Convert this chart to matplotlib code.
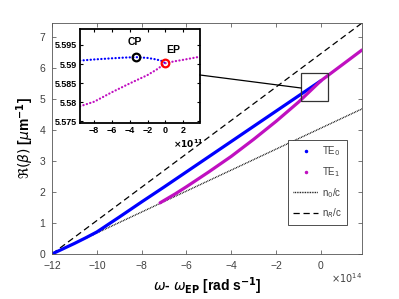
import numpy as np
import matplotlib.pyplot as plt
from matplotlib.lines import Line2D
from matplotlib.patches import Rectangle
from matplotlib.ticker import FuncFormatter

plt.rcParams['font.family'] = ['Liberation Sans', 'DejaVu Sans']
plt.rcParams['mathtext.fontset'] = 'dejavusans'

# main plot, x in units of 1e14 rad/s
te0_x = [-12, -11.5, -11, -10.5, -10, -9, -8, -7, -6, -5, -4, -3, -2, -1, 0]
te0_y = [0, 0.17, 0.34, 0.52, 0.71, 1.19, 1.68, 2.16, 2.65, 3.14, 3.63, 4.12, 4.61, 5.10, 5.59]
te1_x = [-7.18, -6.5, -6, -5, -4, -3, -2, -1, 0, 1, 1.83]
te1_y = [1.65, 1.94, 2.17, 2.65, 3.15, 3.70, 4.28, 4.90, 5.59, 6.13, 6.58]
n0_x = [-12, 1.83]
n0_y = [0, 4.68]
nr_x = [-12, 1.83]
nr_y = [0, 7.45]

# inset, x in units of 1e11 rad/s
in0_x = [-9.6, -8, -6, -4.5, -3.3, -2, -1, -0.4, 0]
in0_y = [5.5909, 5.5912, 5.5915, 5.5917, 5.5918, 5.5916, 5.5912, 5.5908, 5.5902]
in1_x = [-9.6, -8, -6, -4, -2, -1, 0, 1, 2, 3.85]
in1_y = [5.5789, 5.5801, 5.5826, 5.5849, 5.5871, 5.5885, 5.5902, 5.5907, 5.5911, 5.5919]
cp = (-3.3, 5.5918)
ep = (0.0, 5.5902)

blue = '#0000ff'
mag = '#c010c0'
gray = '#404040'

fig = plt.figure(figsize=(3.99, 2.99), dpi=100)
ax = fig.add_axes([0.1303, 0.1505, 0.777, 0.7726])

ax.plot(nr_x, nr_y, color='k', ls=(0, (5, 3)), lw=0.9)
ax.plot(n0_x, n0_y, color='k', ls=(0, (0.6, 0.6)), lw=1.0)
ax.plot(te0_x, te0_y, color=blue, lw=2.3, solid_capstyle='round')
ax.plot(te1_x, te1_y, color=mag, lw=2.3, solid_capstyle='round')

ax.set_xlim(-12, 1.83)
ax.set_ylim(0, 7.45)
ax.set_xticks(range(-12, 1, 2))
ax.set_yticks(range(0, 8))
ax.tick_params(direction='in', top=True, right=True, labelsize=7.5,
               colors=gray, length=3, width=0.5, pad=5)
for s in ax.spines.values():
    s.set_color('#555555')
    s.set_linewidth(0.6)
fig.text(362 / 399, 1 - 278 / 299, r'$\times10^{14}$', fontsize=7,
         color=gray, ha='right', va='center')

ax.set_xlabel(r'$\omega$- $\omega_{\mathbf{EP}}$ [rad s$^{\mathbf{-1}}$]',
              fontsize=10, fontweight='bold', labelpad=3)
ax.set_ylabel(r'$\Re(\beta)$ [$\mu$m$^{\mathbf{-1}}$]', fontsize=10,
              fontweight='bold', labelpad=2)

ax.add_patch(Rectangle((-0.89, 4.94), 1.2, 0.9, fill=False,
                       ec='#333333', lw=0.9, zorder=5))

handles = [
    Line2D([], [], ls='none', marker='.', ms=3, color=blue),
    Line2D([], [], ls='none', marker='.', ms=3, color=mag),
    Line2D([], [], color='k', ls=(0, (0.6, 0.6)), lw=1.0),
    Line2D([], [], color='k', ls=(0, (5, 3)), lw=0.9),
]
leg = ax.legend(handles, ['TE$_0$', 'TE$_1$', 'n$_0$/c', 'n$_R$/c'],
                loc='lower right', bbox_to_anchor=(347 / 399, 1 - 225 / 299),
                bbox_transform=fig.transFigure, borderaxespad=0,
                fontsize=7, fancybox=False, framealpha=1, handlelength=2.6,
                labelspacing=0.7, handletextpad=0.4, borderpad=0.5)
leg.get_frame().set_edgecolor('#333333')
leg.get_frame().set_linewidth(0.6)
for t in leg.get_texts():
    t.set_color(gray)

fig.add_artist(Line2D([200 / 399, 301 / 399], [1 - 75 / 299, 1 - 88 / 299],
                      color='k', lw=0.9))

ins = fig.add_axes([0.2005, 0.5886, 0.2995, 0.3144])
ins.plot(in0_x, in0_y, color=blue, lw=1.6,
         ls=(0, (0.1, 1.5)), dash_capstyle='round')
ins.plot(in1_x, in1_y, color=mag, lw=1.6,
         ls=(0, (0.1, 1.5)), dash_capstyle='round')
ins.plot(cp[0], cp[1], 'o', mfc='none', mec='k', ms=5.5, mew=1.6)
ins.plot(ep[0], ep[1], 'o', mfc='none', mec='red', ms=5.5, mew=1.6)
ins.text(-3.4, 5.5951, 'CP', fontsize=7.5, fontweight='bold', ha='center')
ins.text(0.9, 5.5928, 'EP', fontsize=7.5, fontweight='bold', ha='center')
ins.set_xlim(-9.6, 3.85)
ins.set_ylim(5.5745, 5.5992)
ins.set_xticks(range(-8, 3, 2))
ins.set_yticks([5.575, 5.58, 5.585, 5.59, 5.595])
ins.yaxis.set_major_formatter(FuncFormatter(lambda v, p: '%g' % v))
ins.tick_params(direction='in', top=True, right=True, labelsize=6.5,
                length=2.5, width=0.8, pad=2)
for t in ins.get_xticklabels() + ins.get_yticklabels():
    t.set_fontweight('bold')
for s in ins.spines.values():
    s.set_linewidth(1.3)
fig.text(188 / 399, 1 - 144 / 299, r'$\mathbf{\times10^{11}}$', fontsize=6.5,
         ha='center', va='center')

fig.savefig('out.png', dpi=100)
